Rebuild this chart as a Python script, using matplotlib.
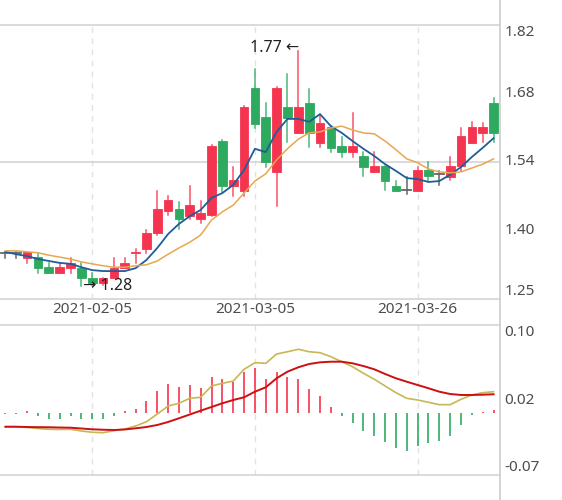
import matplotlib
matplotlib.use('Agg')
import matplotlib.pyplot as plt
from matplotlib.patches import Rectangle
from matplotlib.lines import Line2D

plt.rcParams['font.family'] = ['Noto Sans', 'DejaVu Sans']

# trading days shown on the chart
dates = ['2021-01-26', '2021-01-27', '2021-01-28', '2021-01-29', '2021-02-01', '2021-02-02',
         '2021-02-03', '2021-02-04', '2021-02-05', '2021-02-08', '2021-02-09', '2021-02-10',
         '2021-02-18', '2021-02-19', '2021-02-22', '2021-02-23', '2021-02-24', '2021-02-25',
         '2021-02-26', '2021-03-01', '2021-03-02', '2021-03-03', '2021-03-04', '2021-03-05',
         '2021-03-08', '2021-03-09', '2021-03-10', '2021-03-11', '2021-03-12', '2021-03-15',
         '2021-03-16', '2021-03-17', '2021-03-18', '2021-03-19', '2021-03-22', '2021-03-23',
         '2021-03-24', '2021-03-25', '2021-03-26', '2021-03-29', '2021-03-30', '2021-03-31',
         '2021-04-01', '2021-04-02', '2021-04-06', '2021-04-07']

opens = [1.350, 1.350, 1.339, 1.341, 1.320, 1.308, 1.318, 1.318, 1.298, 1.287, 1.298, 1.318,
         1.349, 1.358, 1.391, 1.437, 1.441, 1.426, 1.420, 1.428, 1.582, 1.489, 1.478, 1.692,
         1.632, 1.518, 1.653, 1.599, 1.661, 1.578, 1.611, 1.572, 1.559, 1.551, 1.518, 1.530,
         1.489, 1.480, 1.478, 1.522, 1.514, 1.507, 1.530, 1.578, 1.599, 1.661]
closes = [1.350, 1.350, 1.352, 1.318, 1.308, 1.320, 1.329, 1.298, 1.287, 1.298, 1.318, 1.329,
          1.351, 1.391, 1.441, 1.460, 1.420, 1.449, 1.433, 1.572, 1.489, 1.501, 1.653, 1.617,
          1.539, 1.692, 1.630, 1.653, 1.599, 1.620, 1.568, 1.559, 1.572, 1.528, 1.530, 1.499,
          1.478, 1.480, 1.522, 1.509, 1.514, 1.530, 1.593, 1.611, 1.611, 1.599]
lows = [1.339, 1.339, 1.329, 1.308, 1.308, 1.308, 1.308, 1.280, 1.283, 1.284, 1.298, 1.318,
        1.329, 1.350, 1.387, 1.428, 1.399, 1.420, 1.412, 1.426, 1.474, 1.468, 1.468, 1.609,
        1.528, 1.447, 1.580, 1.599, 1.570, 1.570, 1.559, 1.549, 1.549, 1.509, 1.518, 1.480,
        1.478, 1.472, 1.478, 1.499, 1.491, 1.501, 1.520, 1.578, 1.580, 1.580]
highs = [1.351, 1.351, 1.352, 1.350, 1.329, 1.329, 1.339, 1.329, 1.308, 1.298, 1.339, 1.339,
         1.358, 1.397, 1.478, 1.468, 1.455, 1.489, 1.458, 1.574, 1.584, 1.528, 1.655, 1.732,
         1.661, 1.694, 1.721, 1.770, 1.690, 1.636, 1.613, 1.590, 1.640, 1.559, 1.559, 1.530,
         1.499, 1.507, 1.528, 1.539, 1.520, 1.549, 1.609, 1.622, 1.620, 1.671]

ma5 = [1.352, 1.347, 1.343, 1.337, 1.333, 1.329, 1.327, 1.320, 1.314, 1.312, 1.312, 1.312,
       1.318, 1.335, 1.360, 1.389, 1.410, 1.426, 1.439, 1.464, 1.474, 1.491, 1.522, 1.566,
       1.559, 1.601, 1.628, 1.628, 1.622, 1.638, 1.613, 1.599, 1.582, 1.566, 1.551, 1.534,
       1.520, 1.505, 1.503, 1.497, 1.499, 1.512, 1.528, 1.549, 1.568, 1.588]
ma10 = [1.354, 1.354, 1.352, 1.350, 1.345, 1.341, 1.337, 1.331, 1.327, 1.323, 1.320, 1.320,
        1.323, 1.325, 1.333, 1.347, 1.360, 1.372, 1.387, 1.418, 1.435, 1.449, 1.474, 1.499,
        1.514, 1.543, 1.566, 1.586, 1.599, 1.601, 1.609, 1.613, 1.605, 1.599, 1.597, 1.582,
        1.564, 1.545, 1.537, 1.524, 1.518, 1.516, 1.518, 1.526, 1.534, 1.545]

macd_hist = [-0.0005, -0.0005, 0.002, -0.003, -0.006, -0.006, -0.003, -0.0065, -0.007, -0.007,
             -0.003, 0.002, 0.005, 0.0136, 0.025, 0.0335, 0.030, 0.0315, 0.029, 0.0415,
             0.039, 0.035, 0.047, 0.0515, 0.039, 0.0465, 0.0415, 0.0385, 0.0275, 0.020,
             0.0075, -0.0035, -0.011, -0.020, -0.026, -0.0325, -0.039, -0.0425, -0.037, -0.0335,
             -0.031, -0.026, -0.013, -0.002, 0.0015, 0.004]
dif = [-0.0153, -0.0153, -0.0162, -0.0173, -0.0182, -0.0184, -0.0182, -0.0201, -0.0216, -0.0221,
       -0.0198, -0.0179, -0.0145, -0.0096, -0.0009, 0.0082, 0.0113, 0.0169, 0.0181, 0.0309,
       0.0339, 0.0365, 0.0498, 0.0573, 0.0566, 0.0671, 0.0697, 0.0725, 0.0697, 0.0686,
       0.0641, 0.0584, 0.0527, 0.0453, 0.0385, 0.0309, 0.0233, 0.0169, 0.0150, 0.0124,
       0.0097, 0.0097, 0.0158, 0.0207, 0.0233, 0.0244]
dea = [-0.0153, -0.0153, -0.0156, -0.0158, -0.0159, -0.0162, -0.0164, -0.0173, -0.0182, -0.0187,
       -0.0190, -0.0184, -0.0171, -0.0156, -0.0133, -0.0099, -0.0057, -0.0014, 0.0029, 0.0071,
       0.0113, 0.0150, 0.0181, 0.0244, 0.0294, 0.0396, 0.0471, 0.0521, 0.0558, 0.0577,
       0.0584, 0.0584, 0.0566, 0.0535, 0.0498, 0.0445, 0.0396, 0.0357, 0.0320, 0.0283,
       0.0244, 0.0218, 0.0207, 0.0207, 0.0210, 0.0215]

price_ticks = [1.254, 1.396, 1.539, 1.681, 1.823]
price_labels = ['1.25', '1.40', '1.54', '1.68', '1.82']
macd_ticks = [-0.07, 0.015, 0.10]
macd_labels = ['-0.07', '0.02', '0.10']
shown_dates = ['2021-02-05', '2021-03-05', '2021-03-26']

UP = '#f5344f'
DOWN = '#2eaa60'
DOJI = '#666666'
GRID = '#d4d4d4'
LABEL = '#4d4d4d'
FS = 11

fig = plt.figure(figsize=(5.62, 5.0), dpi=100)
ax1 = fig.add_axes([0, 201 / 500, 499 / 562, 274 / 500])
ax2 = fig.add_axes([0, 25 / 500, 499 / 562, 150 / 500])

n = len(dates)
for ax in (ax1, ax2):
    ax.set_xlim(-0.5, n - 0.5)
    for s in ['top', 'bottom', 'right', 'left']:
        ax.spines[s].set_visible(False)
    ax.set_xticks([])
    ax.set_yticks([])
    for d in shown_dates:
        ax.axvline(dates.index(d), color='#e2e2e2', lw=1, ls=(0, (4, 4)), zorder=0)

# price panel
ax1.set_ylim(price_ticks[0], price_ticks[-1])
for v in [price_ticks[0], price_ticks[2], price_ticks[-1]]:
    ax1.axhline(v, color=GRID, lw=1.2, zorder=0, clip_on=False)

bw = 0.8
for i in range(n):
    o, c, lo, hi = opens[i], closes[i], lows[i], highs[i]
    if o == c:
        col = DOJI
        ax1.plot([i, i], [lo, hi], color=col, lw=1.1, zorder=2)
        ax1.plot([i - bw / 2, i + bw / 2], [o, o], color=col, lw=1.3, zorder=2)
        continue
    col = UP if c > o else DOWN
    ax1.plot([i, i], [lo, hi], color=col, lw=1.1, zorder=2, alpha=0.85)
    ax1.add_patch(Rectangle((i - bw / 2, min(o, c)), bw, abs(c - o),
                            facecolor=col, edgecolor=col, lw=0.6, zorder=3))

xs = list(range(n))
ax1.plot(xs, ma5, color='#1f5d99', lw=1.3, zorder=4)
ax1.plot(xs, ma10, color='#e8a74f', lw=1.1, zorder=4)

# high / low markers
hi_i = highs.index(max(highs))
lo_i = lows.index(min(lows))
ax1.annotate('%.2f \u2190' % max(highs), xy=(hi_i, max(highs)), xytext=(1, 2),
             textcoords='offset points', ha='right', va='center', fontsize=11.5, color='#222222')
ax1.annotate('\u2192 %.2f' % min(lows), xy=(lo_i, min(lows)), xytext=(1, 0),
             textcoords='offset points', ha='left', va='center', fontsize=11.5, color='#222222')

for k, (v, t) in enumerate(zip(price_ticks, price_labels)):
    va = 'top' if k == len(price_ticks) - 1 else ('bottom' if k == 0 else 'center')
    ax1.annotate(t, xy=(1, v), xycoords=('axes fraction', 'data'), xytext=(4, 0),
                 textcoords='offset points', ha='left', va=va, fontsize=FS, color=LABEL,
                 annotation_clip=False)

for d in shown_dates:
    ax1.annotate(d, xy=(dates.index(d), 0), xycoords=('data', 'axes fraction'),
                 xytext=(0, -2), textcoords='offset points', ha='center', va='top',
                 fontsize=FS, color=LABEL, annotation_clip=False)

# MACD panel
ax2.set_ylim(macd_ticks[0], macd_ticks[-1])
ax2.axhline(macd_ticks[0], color=GRID, lw=1.2, zorder=0, clip_on=False)
ax2.axhline(macd_ticks[-1], color=GRID, lw=1.2, zorder=0, clip_on=False)
for i in range(n):
    h = macd_hist[i]
    ax2.plot([i, i], [0, h], color=UP if h > 0 else DOWN, lw=1.2, zorder=2,
             solid_capstyle='butt')
ax2.plot(xs, dif, color='#c8b752', lw=1.2, zorder=3)
ax2.plot(xs, dea, color='#cc1010', lw=1.4, zorder=3)

for k, (v, t) in enumerate(zip(macd_ticks, macd_labels)):
    va = 'top' if k == len(macd_ticks) - 1 else ('bottom' if k == 0 else 'center')
    ax2.annotate(t, xy=(1, v), xycoords=('axes fraction', 'data'), xytext=(4, 0),
                 textcoords='offset points', ha='left', va=va, fontsize=FS, color=LABEL,
                 annotation_clip=False)

fig.add_artist(Line2D([499.5 / 562, 499.5 / 562], [0, 1], color='#cccccc', lw=1.2))

fig.savefig('out.png', dpi=100)
